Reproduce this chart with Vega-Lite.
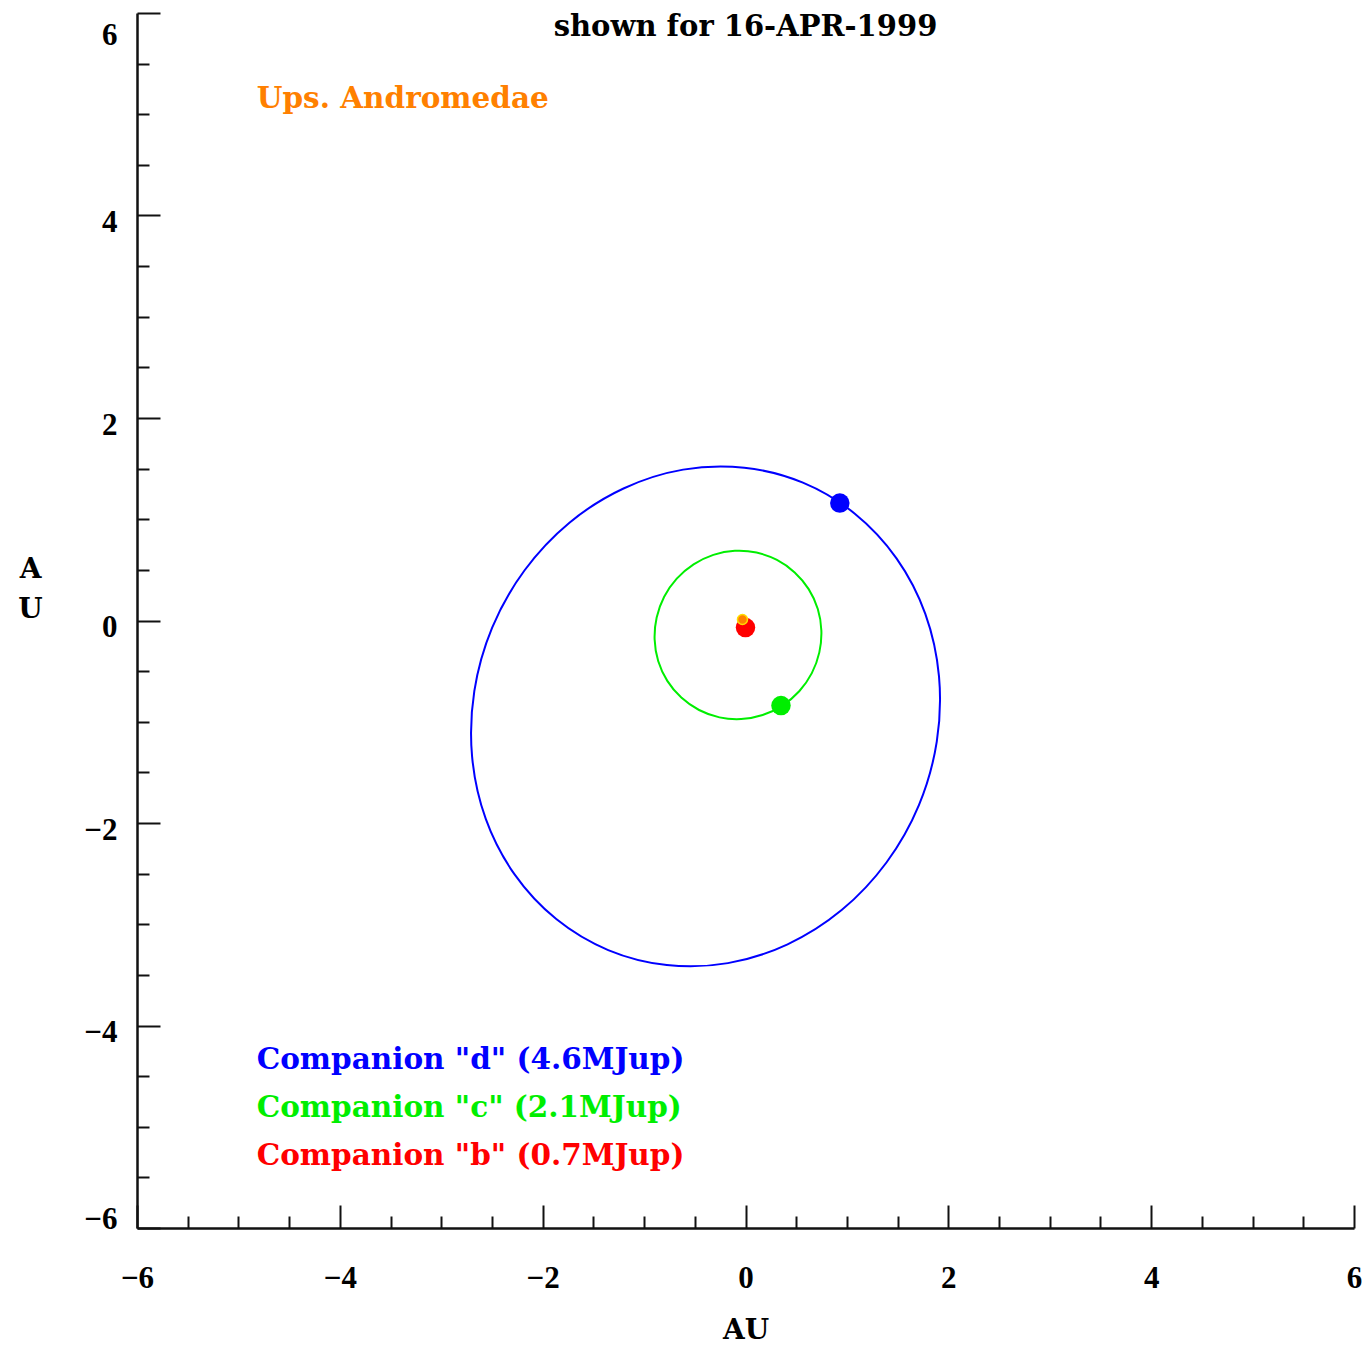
{
  "$schema": "https://vega.github.io/schema/vega-lite/v6.json",
  "width": 1217,
  "height": 1215,
  "autosize": "none",
  "padding": {"left": 137, "top": 13, "right": 11, "bottom": 117},
  "background": "white",
  "config": {"view": {"stroke": null}, "font": "DejaVu Serif"},
  "title": {"text": "shown for 16-APR-1999", "anchor": "middle", "frame": "group", "offset": -30, "font": "DejaVu Serif", "fontWeight": "bold", "fontSize": 29, "color": "black"},
  "datasets": {
    "orbits": [
      {"body": "d", "i": 0, "x": 0.566, "y": 1.361},
      {"body": "d", "i": 1, "x": -0.012, "y": 1.509},
      {"body": "d", "i": 2, "x": -0.615, "y": 1.490},
      {"body": "d", "i": 3, "x": -1.203, "y": 1.304},
      {"body": "d", "i": 4, "x": -1.736, "y": 0.966},
      {"body": "d", "i": 5, "x": -2.178, "y": 0.496},
      {"body": "d", "i": 6, "x": -2.498, "y": -0.071},
      {"body": "d", "i": 7, "x": -2.674, "y": -0.698},
      {"body": "d", "i": 8, "x": -2.696, "y": -1.342},
      {"body": "d", "i": 9, "x": -2.561, "y": -1.960},
      {"body": "d", "i": 10, "x": -2.277, "y": -2.508},
      {"body": "d", "i": 11, "x": -1.866, "y": -2.949},
      {"body": "d", "i": 12, "x": -1.354, "y": -3.255},
      {"body": "d", "i": 13, "x": -0.776, "y": -3.403},
      {"body": "d", "i": 14, "x": -0.173, "y": -3.384},
      {"body": "d", "i": 15, "x": 0.415, "y": -3.198},
      {"body": "d", "i": 16, "x": 0.948, "y": -2.860},
      {"body": "d", "i": 17, "x": 1.390, "y": -2.390},
      {"body": "d", "i": 18, "x": 1.710, "y": -1.823},
      {"body": "d", "i": 19, "x": 1.886, "y": -1.196},
      {"body": "d", "i": 20, "x": 1.908, "y": -0.552},
      {"body": "d", "i": 21, "x": 1.773, "y": 0.066},
      {"body": "d", "i": 22, "x": 1.489, "y": 0.614},
      {"body": "d", "i": 23, "x": 1.078, "y": 1.055},
      {"body": "c", "i": 0, "x": 0.310, "y": 0.598},
      {"body": "c", "i": 1, "x": 0.109, "y": 0.671},
      {"body": "c", "i": 2, "x": -0.105, "y": 0.688},
      {"body": "c", "i": 3, "x": -0.317, "y": 0.648},
      {"body": "c", "i": 4, "x": -0.512, "y": 0.554},
      {"body": "c", "i": 5, "x": -0.678, "y": 0.413},
      {"body": "c", "i": 6, "x": -0.802, "y": 0.234},
      {"body": "c", "i": 7, "x": -0.876, "y": 0.029},
      {"body": "c", "i": 8, "x": -0.896, "y": -0.188},
      {"body": "c", "i": 9, "x": -0.861, "y": -0.400},
      {"body": "c", "i": 10, "x": -0.771, "y": -0.596},
      {"body": "c", "i": 11, "x": -0.633, "y": -0.761},
      {"body": "c", "i": 12, "x": -0.458, "y": -0.884},
      {"body": "c", "i": 13, "x": -0.257, "y": -0.957},
      {"body": "c", "i": 14, "x": -0.043, "y": -0.974},
      {"body": "c", "i": 15, "x": 0.169, "y": -0.934},
      {"body": "c", "i": 16, "x": 0.364, "y": -0.840},
      {"body": "c", "i": 17, "x": 0.530, "y": -0.699},
      {"body": "c", "i": 18, "x": 0.654, "y": -0.520},
      {"body": "c", "i": 19, "x": 0.728, "y": -0.315},
      {"body": "c", "i": 20, "x": 0.748, "y": -0.098},
      {"body": "c", "i": 21, "x": 0.713, "y": 0.114},
      {"body": "c", "i": 22, "x": 0.623, "y": 0.310},
      {"body": "c", "i": 23, "x": 0.485, "y": 0.475}
    ],
    "planets": [
      {"body": "d", "x": 0.93, "y": 1.16},
      {"body": "c", "x": 0.35, "y": -0.84},
      {"body": "b", "x": 0.0, "y": -0.07}
    ],
    "star": [
      {"body": "star", "x": -0.03, "y": 0.01}
    ],
    "labels": [
      {"body": "star", "x": -4.82, "y": 5.15, "text": "Ups. Andromedae"},
      {"body": "d", "x": -4.82, "y": -4.34, "text": "Companion \"d\" (4.6MJup)"},
      {"body": "c", "x": -4.82, "y": -4.815, "text": "Companion \"c\" (2.1MJup)"},
      {"body": "b", "x": -4.82, "y": -5.29, "text": "Companion \"b\" (0.7MJup)"}
    ]
  },
  "encoding": {
    "x": {
      "field": "x", "type": "quantitative",
      "scale": {"domain": [-6, 6], "nice": false, "zero": false},
      "axis": {
        "title": "AU",
        "values": [-6, -5.5, -5, -4.5, -4, -3.5, -3, -2.5, -2, -1.5, -1, -0.5, 0, 0.5, 1, 1.5, 2, 2.5, 3, 3.5, 4, 4.5, 5, 5.5, 6],
        "format": "~g",
        "labelExpr": "datum.value % 2 === 0 ? datum.label : ''",
        "grid": false,
        "domainColor": "#111", "domainWidth": 2.5,
        "tickColor": "#111", "tickWidth": 2,
        "tickSize": {"condition": {"test": "datum.value % 2 === 0", "value": -23}, "value": -12},
        "labelPadding": 58,
        "labelFont": "Liberation Serif", "labelFontWeight": "bold", "labelFontSize": 31, "labelColor": "black",
        "labelBaseline": "top",
        "labelFlush": false,
        "titleFont": "DejaVu Serif", "titleFontWeight": "bold", "titleFontSize": 28, "titleColor": "black",
        "titleBaseline": "middle", "titleY": 102
      }
    },
    "y": {
      "field": "y", "type": "quantitative",
      "scale": {"domain": [-6, 6], "nice": false, "zero": false},
      "axis": {
        "title": ["A", "U"],
        "values": [-6, -5.5, -5, -4.5, -4, -3.5, -3, -2.5, -2, -1.5, -1, -0.5, 0, 0.5, 1, 1.5, 2, 2.5, 3, 3.5, 4, 4.5, 5, 5.5, 6],
        "format": "~g",
        "labelExpr": "datum.value % 2 === 0 ? datum.label : ''",
        "grid": false,
        "domainColor": "#111", "domainWidth": 2.5,
        "tickColor": "#111", "tickWidth": 2,
        "tickSize": {"condition": {"test": "datum.value % 2 === 0", "value": -23}, "value": -12},
        "labelPadding": 43,
        "labelFont": "Liberation Serif", "labelFontWeight": "bold", "labelFontSize": 31, "labelColor": "black",
        "labelFlush": true,
        "labelOffset": 7,
        "titleFont": "DejaVu Serif", "titleFontWeight": "bold", "titleFontSize": 28, "titleColor": "black",
        "titleAngle": 0, "titleAlign": "center", "titleBaseline": "middle",
        "titleX": -107, "titleY": 556, "titleLineHeight": 40
      }
    },
    "color": {
      "field": "body", "type": "nominal",
      "scale": {"domain": ["d", "c", "b", "star"], "range": ["#0000ff", "#00ee00", "#ff0000", "#ff8000"]},
      "legend": null
    }
  },
  "layer": [
    {
      "data": {"name": "orbits"},
      "mark": {"type": "line", "interpolate": "cardinal-closed", "strokeWidth": 2},
      "encoding": {"order": {"field": "i", "type": "quantitative"}}
    },
    {
      "data": {"name": "planets"},
      "mark": {"type": "point", "shape": "circle", "filled": true, "opacity": 1, "size": 380}
    },
    {
      "data": {"name": "star"},
      "mark": {"type": "point", "shape": "circle", "filled": true, "opacity": 1, "size": 100, "stroke": "#ffdd00", "strokeWidth": 1.5}
    },
    {
      "data": {"name": "labels"},
      "mark": {"type": "text", "align": "left", "baseline": "middle", "font": "DejaVu Serif", "fontWeight": "bold", "fontSize": 29.5},
      "encoding": {"text": {"field": "text"}}
    }
  ]
}
